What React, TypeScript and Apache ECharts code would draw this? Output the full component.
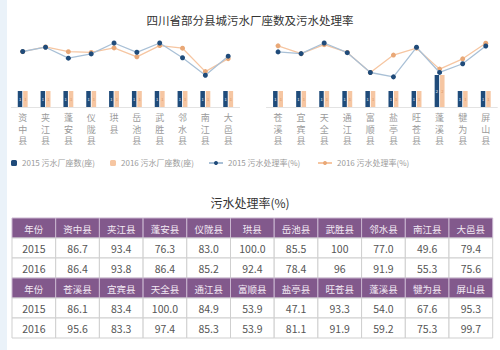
import React, { useEffect, useRef } from "react";
import * as echarts from "echarts";

const countiesA = ["资中县", "夹江县", "蓬安县", "仪陇县", "珙县", "岳池县", "武胜县", "邻水县", "南江县", "大邑县"];
const countiesB = ["苍溪县", "宜宾县", "天全县", "通江县", "富顺县", "盐亭县", "旺苍县", "蓬溪县", "犍为县", "屏山县"];

const rateA2015 = ["86.7", "93.4", "76.3", "83.0", "100.0", "85.5", "100", "77.0", "49.6", "79.4"];
const rateA2016 = ["86.4", "93.8", "86.4", "85.2", "92.4", "78.4", "96", "91.9", "55.3", "75.6"];
const rateB2015 = ["86.1", "83.4", "100.0", "84.9", "53.9", "47.1", "93.3", "54.0", "67.6", "95.3"];
const rateB2016 = ["95.6", "83.3", "97.4", "85.3", "53.9", "81.1", "91.9", "59.2", "75.3", "99.7"];

const plantsA2015 = [1, 1, 1, 1, 1, 1, 1, 1, 1, 1];
const plantsA2016 = [1, 1, 1, 1, 1, 1, 1, 1, 1, 1];
const plantsB2015 = [1, 1, 1, 1, 1, 1, 1, 2, 1, 1];
const plantsB2016 = [1, 1, 1, 1, 1, 1, 1, 2, 1, 1];

const years = ["2015", "2016"];
const headerLabel = "年份";

const S_BAR15 = "2015 污水厂座数(座)";
const S_BAR16 = "2016 污水厂座数(座)";
const S_LINE15 = "2015 污水处理率(%)";
const S_LINE16 = "2016 污水处理率(%)";

const FONT = '"Noto Sans CJK SC", "Noto Sans", sans-serif';
const NAVY = "#1f4b7a";
const PEACH = "#f6c6a2";
const PEACH_DOT = "#e9a877";
const NAVY_LINE = "#a9c0d6";
const PURPLE = "#82598c";

function buildTable(): any[] {
  const els: any[] = [];
  const x0 = 12;
  const colW = 43.7;
  const rowH = 20;
  const top = 218;
  const blocks = [
    { names: countiesA, r15: rateA2015, r16: rateA2016 },
    { names: countiesB, r15: rateB2015, r16: rateB2016 },
  ];
  blocks.forEach((b, bi) => {
    const rows = [
      [headerLabel, ...b.names],
      [years[0], ...b.r15],
      [years[1], ...b.r16],
    ];
    rows.forEach((row, ri) => {
      const y = top + (bi * 3 + ri) * rowH;
      const header = ri === 0;
      row.forEach((txt, ci) => {
        const x = x0 + ci * colW;
        els.push({
          type: "rect",
          shape: { x, y, width: colW, height: rowH },
          style: {
            fill: header ? PURPLE : "#ffffff",
            stroke: header ? "#c9b6cf" : "#cfcfcf",
            lineWidth: 1,
          },
          silent: true,
        });
        els.push({
          type: "text",
          x: x + colW / 2,
          y: y + rowH / 2 + 0.5,
          style: {
            text: txt,
            fill: header ? "#f3e9f4" : "#555555",
            font: `${header ? 9.5 : 10.5}px ${FONT}`,
            align: "center",
            verticalAlign: "middle",
            textAlign: "center",
            textVerticalAlign: "middle",
          },
          silent: true,
        });
      });
    });
  });
  return els;
}

export default function App() {
  const ref = useRef<HTMLDivElement>(null);
  useEffect(() => {
    document.body.style.margin = "0";
    if (!ref.current) return;
    const chart = echarts.init(ref.current, undefined, { renderer: "svg" });
    const num = (a: string[]) => a.map((v) => parseFloat(v));

    const xAxisCommon = (data: string[], gi: number) => ({
      type: "category",
      gridIndex: gi,
      data,
      axisLine: { show: true, lineStyle: { color: "#e3e3e3" } },
      axisTick: { show: false },
      axisLabel: {
        interval: 0,
        color: "#9a9a9a",
        fontSize: 9,
        lineHeight: 11.5,
        fontFamily: FONT,
        margin: 5,
        formatter: (v: string) => v.split("").join("\n"),
      },
    });
    const yBar = (gi: number) => ({ type: "value", gridIndex: gi, min: 0, max: 4, show: false });
    const yLine = (gi: number) => ({ type: "value", gridIndex: gi, min: 0, max: 100, show: false });

    const barSeries = (name: string, data: number[], gi: number, color: string, labelColor: string) => ({
      name,
      type: "bar",
      xAxisIndex: gi,
      yAxisIndex: gi * 2,
      data,
      barWidth: 4.5,
      barGap: "20%",
      itemStyle: { color },
      label: { show: true, position: "inside", fontSize: 4, color: labelColor, fontFamily: FONT },
    });
    const lineSeries = (name: string, data: number[], gi: number, dot: string, line: string, z: number) => ({
      name,
      type: "line",
      xAxisIndex: gi,
      yAxisIndex: gi * 2 + 1,
      data,
      symbol: "circle",
      symbolSize: 5,
      z,
      itemStyle: { color: dot },
      lineStyle: { color: line, width: 1.3 },
    });

    const legendBase = (name: string, left: number, bar: boolean) => ({
      data: [name],
      left,
      top: 159,
      itemWidth: bar ? 6 : 14,
      itemHeight: bar ? 6 : 5,
      itemGap: 4,
      textStyle: { color: "#9a9a9a", fontSize: 8, fontFamily: FONT },
      padding: 0,
    });

    chart.setOption({
      animation: false,
      backgroundColor: "#ffffff",
      title: [
        {
          text: "四川省部分县城污水厂座数及污水处理率",
          left: "center",
          top: 9,
          textStyle: { fontSize: 11.5, fontWeight: "normal", color: "#333333", fontFamily: FONT },
        },
        {
          text: "污水处理率(%)",
          left: "center",
          top: 191,
          textStyle: { fontSize: 12, fontWeight: "normal", color: "#333333", fontFamily: FONT },
        },
      ],
      legend: [
        legendBase(S_BAR15, 11, true),
        legendBase(S_BAR16, 110, true),
        legendBase(S_LINE15, 208, false),
        legendBase(S_LINE16, 317, false),
      ],
      grid: [
        { left: 11.3, width: 228.3, top: 43, height: 64 },
        { left: 266.5, width: 230.8, top: 43, height: 64 },
      ],
      xAxis: [xAxisCommon(countiesA, 0), xAxisCommon(countiesB, 1)],
      yAxis: [yBar(0), yLine(0), yBar(1), yLine(1)],
      series: [
        barSeries(S_BAR15, plantsA2015, 0, NAVY, "#ffffff"),
        barSeries(S_BAR16, plantsA2016, 0, PEACH, "#d98f5a"),
        lineSeries(S_LINE15, num(rateA2015), 0, NAVY, NAVY_LINE, 3),
        lineSeries(S_LINE16, num(rateA2016), 0, PEACH_DOT, PEACH, 2),
        barSeries(S_BAR15, plantsB2015, 1, NAVY, "#ffffff"),
        barSeries(S_BAR16, plantsB2016, 1, PEACH, "#d98f5a"),
        lineSeries(S_LINE15, num(rateB2015), 1, NAVY, NAVY_LINE, 3),
        lineSeries(S_LINE16, num(rateB2016), 1, PEACH_DOT, PEACH, 2),
      ],
      graphic: [
        {
          type: "rect",
          shape: { x: 0, y: 0, width: 7, height: 350 },
          style: { fill: "#eaf2f9" },
          silent: true,
        },
        ...buildTable(),
      ],
    });
    return () => chart.dispose();
  }, []);
  return <div ref={ref} style={{ width: 500, height: 350 }} />;
}
